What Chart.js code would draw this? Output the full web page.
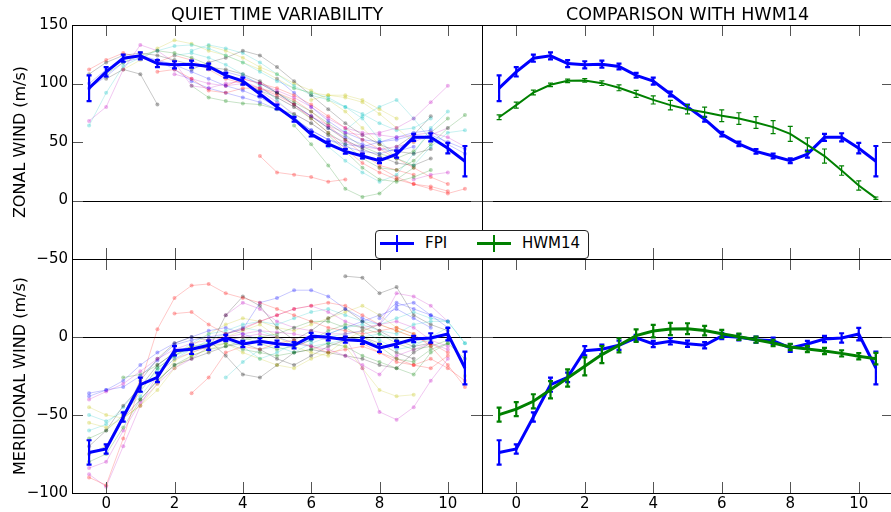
<!DOCTYPE html>
<html>
<head>
<meta charset="utf-8">
<script src="https://cdn.jsdelivr.net/npm/chart.js@4.4.0/dist/chart.umd.min.js"></script>
<style>
  html, body { margin: 0; padding: 0; overflow: hidden; background: #fff; }
  body { width: 891px; height: 512px; position: relative; font-family: "DejaVu Sans", sans-serif; }
  canvas { position: absolute; }
  #legend { position: absolute; left: 375px; top: 230px; width: 212px; height: 27px;
            border: 1px solid #222; border-radius: 4px; background: #fff; z-index: 2; }
  .key { position: absolute; top: 4px; width: 34px; height: 17px; }
  .key .h { position: absolute; left: 0; top: 7px; width: 34px; height: 3px; }
  .key .v { position: absolute; left: 16px; top: 0; width: 2px; height: 17px; }
  .lbl { position: absolute; top: 2px; font-size: 15px; line-height: 20px; color: #000; }
</style>
</head>
<body>
<canvas id="meridVar" width="483" height="253" style="left:0;top:259px"></canvas>
<canvas id="meridCmp" width="412" height="253" style="left:482px;top:259px"></canvas>
<canvas id="zonalVar" width="483" height="270" style="left:0;top:0"></canvas>
<canvas id="zonalCmp" width="412" height="270" style="left:482px;top:0"></canvas>
<div id="legend">
  <div class="key" style="left:4px"><div class="h" style="background:#0000ff"></div><div class="v" style="background:#0000ff"></div></div>
  <div class="lbl" style="left:49px">FPI</div>
  <div class="key" style="left:101px"><div class="h" style="background:#008000"></div><div class="v" style="background:#008000"></div></div>
  <div class="lbl" style="left:146px">HWM14</div>
</div>
<script>
// Heure locale (demi-heures)
const hours = [-0.5, 0, 0.5, 1, 1.5, 2, 2.5, 3, 3.5, 4, 4.5, 5, 5.5, 6, 6.5, 7, 7.5, 8, 8.5, 9, 9.5, 10, 10.5];
const xTicks = [0, 2, 4, 6, 8, 10];
const zonalTicks = [150, 100, 50, 0, -50];
const meridTicks = [50, 0, -50, -100];

// Moyennes FPI et HWM14
const fpiZonal = [96, 110, 121.6, 123.6, 117, 116, 116.5, 114.5, 107, 102, 91, 80, 69.5, 56.7, 48.4, 42, 38, 34, 39.6, 54, 54, 44.7, 33.6];
const fpiZonalErr = [11, 4, 3, 3, 3, 3, 3, 2.5, 2, 3, 2, 2, 2, 2, 2, 2, 2, 2, 3, 3, 3.5, 4.5, 13];
const hwmZonal = [71.2, 81.5, 92.3, 98.9, 102.3, 102.6, 100.3, 96.3, 91.2, 86, 81.5, 78, 75.5, 72.4, 70, 66.7, 62.7, 57, 47.6, 38, 25.6, 12.8, 2];
const hwmZonalErr = [2, 2.5, 2, 1.5, 1.5, 1.5, 2, 2.5, 3, 3.5, 4, 4, 4.3, 5, 5, 5, 5.5, 6.4, 6, 6, 4, 4, 1];
const fpiMerid = [-74, -71.8, -51.3, -30.6, -25.9, -8.8, -7.9, -5.3, -0.6, -4.5, -2.8, -4.3, -5.3, 0.6, -0.2, -1.7, -2.4, -7, -4.5, -1.3, -0.6, 1.9, -19.9];
const fpiMeridErr = [7.8, 3, 3, 4.5, 3, 3, 3, 3, 2, 2, 2, 2, 2, 2, 2, 2, 2, 2.5, 2, 2, 3, 4, 10.5];
const hwmMerid = [-49.8, -46.2, -41.2, -33.8, -26.3, -18.8, -11.3, -5.3, 0.9, 3.8, 5.1, 5.3, 4.1, 2.1, 0.2, -1.7, -3.8, -6.4, -7.7, -9, -10.5, -12.4, -13.9];
const hwmMeridErr = [4.5, 4.5, 4.5, 5.5, 5.5, 5.8, 5.5, 4.5, 4, 4, 3.9, 3.5, 3, 2.5, 2, 2, 2, 2, 2, 2, 2, 2, 3.7];

// Nuits calmes individuelles - vent zonal
const N = null;
const zNight01 = [100, 112, 120, 124, 120, 116, 110, 104, 98, 94, 88, 80, 70, 60, 52, 46, 42, 40, 44, 52, 56, 50, 44];
const zNight02 = [N, 108, 118, 124, 128, 126, 122, 116, 108, 100, 94, 88, 80, 70, 58, 48, 36, 28, 26, 34, 48, 62, 73];
const zNight03 = [N, N, N, N, N, N, N, N, N, N, 38, 24, 22, 20, 16, 18, N, N, N, N, N, N, N];
const zNight04 = [64, 92, 115, 122, 128, 132, 133, 130, 124, 118, 110, 102, 96, 92, 88, 80, 70, 52, 36, 30, 46, 58, 60];
const zNight05 = [68, 80, 112, 133, 128, 118, 98, 96, 100, 102, 96, 88, 80, 72, 64, 58, 56, 58, 62, 70, 84, 98, N];
const zNight06 = [N, N, 112, 120, 130, 137, 134, 128, 124, 118, 112, 104, 96, 92, 90, 88, 84, 74, 62, 50, N, N, N];
const zNight07 = [N, 104, 112, 108, 82, N, N, N, N, N, N, N, N, N, N, N, N, N, N, N, N, N, N];
const zNight08 = [N, N, N, N, N, N, 112, 118, 122, 128, 124, 114, 102, 90, 78, 66, 56, 48, 42, 40, 44, N, N];
const zNight09 = [N, N, N, N, N, N, 98, 88, 85, 83, 82, 78, 74, 66, 56, 42, 28, 18, 16, 20, 26, N, N];
const zNight10 = [N, N, N, N, 110, 112, 104, 94, 92, 96, 96, 90, 82, 70, 58, 44, 32, 24, 18, 14, 12, 8, N];
const zNight11 = [N, N, N, N, N, 124, 126, 122, 116, 108, 98, 86, 72, 58, 46, 34, 24, 16, 22, 40, 62, 76, N];
const zNight12 = [N, N, N, N, N, N, N, N, 106, 104, 100, 94, 88, 80, 70, 62, 58, 56, 54, 56, 58, 54, 46];
const zNight13 = [96, 106, 118, 122, 120, 112, 102, 96, 92, 88, 84, 78, 70, 60, 52, 48, 46, 50, 54, 58, 60, 48, 40];
const zNight14 = [N, N, N, N, N, N, N, N, N, N, N, N, N, N, N, N, N, 28, 20, 14, 10, 6, 10];
const zNight15 = [N, N, N, N, N, N, N, N, N, N, N, N, N, 86, 90, 90, 86, 78, 70, N, N, N, N];
const zNight16 = [N, N, N, N, N, N, N, N, N, N, N, N, 64, 48, 30, 10, 3, 6, 18, 28, N, N, N];
const zNight17 = [N, N, N, N, N, N, N, N, N, N, N, N, N, N, N, N, N, N, N, 18, 22, 24, N];
const zNight18 = [N, N, N, N, N, N, N, N, 98, 104, 100, 96, 90, 82, 72, 62, 52, 44, 36, 28, 20, 14, N];
const zNight19 = [N, N, N, N, N, N, N, N, N, N, N, 104, 92, 80, 68, 58, 52, 50, 52, 56, N, N, N];
const zNight20 = [108, 118, 124, 126, 124, 120, 116, 114, 112, 108, 102, 92, 82, 72, 62, 52, 44, 38, 32, 30, 36, N, N];
const zNight21 = [N, N, N, N, N, N, 128, 133, 130, 126, 118, 108, 98, 90, 86, 80, 74, 66, 60, 62, 70, N, N];
const zNight22 = [N, N, N, N, N, 108, 104, 100, 98, 100, 94, 84, 74, 66, 56, 50, 46, 44, 46, 50, 56, 62, N];
const zNight23 = [N, N, N, N, N, N, N, 132, 128, 122, 114, 108, 100, 94, 86, 76, 62, 48, 36, 30, N, N, N];
const zNight24 = [N, N, N, N, N, N, N, N, 110, 106, 100, 92, 82, 72, 62, 54, 48, 44, 42, 46, N, N, N];
const zNight25 = [N, N, N, N, N, N, N, N, N, N, 100, 92, 84, 76, 66, 56, 46, 40, 36, 42, 58, 70, N];
const zNight26 = [N, N, N, N, N, N, N, N, N, N, N, N, N, N, N, N, N, N, 46, 56, 72, N, N];
const zNight27 = [112, 120, 126, 122, 118, 124, 120, 112, 104, 100, 96, 92, 86, 76, 64, 52, 40, 30, 26, 22, N, N, N];
const zNight28 = [N, N, N, N, N, N, N, N, N, N, N, N, N, N, N, 60, 72, 80, 86, 70, 52, 44, N];
const zNightColors = ['b', 'g', 'r', 'c', 'm', 'y', 'k', 'k', 'g', 'r', 'c', 'm', 'b', 'r', 'y', 'g', 'm', 'r', 'b', 'k',
  'c', 'm', 'y', 'b', 'g', 'k', 'r', 'c'];

// Nuits calmes individuelles - vent méridien
const mNight01 = [-90, -95, -65, -30, 5, 25, 33, 34, 28, 25, 22, 18, 14, 10, 6, 4, 2, 4, 6, 2, -6, -18, -32];
const mNight02 = [N, N, N, N, N, 15, 16, 8, 2, 5, 10, 14, 18, 20, 22, 20, 14, 8, 4, 0, -4, -10, N];
const mNight03 = [-40, -35, -30, -22, -14, -8, -4, -2, 0, 2, 4, 3, 2, 0, -2, 0, -20, -48, -53, -45, -28, -14, N];
const mNight04 = [-38, -34, -32, -25, -15, -5, -2, 0, 2, 5, 22, 25, 30, 30, 26, 18, 12, 8, 20, 22, 14, 6, N];
const mNight05 = [-50, -54, -48, -38, -24, -14, -8, -4, -2, -6, -14, -10, -4, -2, 2, 6, 8, 4, 2, 8, 10, 10, -4];
const mNight06 = [-80, -75, -58, -40, -28, -18, -12, -8, -6, -2, 0, 2, 6, 10, 10, 6, 0, -6, -14, -16, -8, -4, -14];
const mNight07 = [-55, -58, -52, -44, -30, -15, -10, -6, 0, 4, 8, 0, -6, -10, -12, -6, -20, -34, -38, -37, N, N, -25];
const mNight08 = [-70, -60, -44, -32, -18, -10, -6, -8, 14, 26, 20, 6, -2, 4, 12, 18, 10, 4, -2, -6, -4, N, N];
const mNight09 = [N, N, N, N, N, N, N, N, N, N, N, N, N, N, N, 39, 38, 28, 32, 14, 8, 4, N];
const mNight10 = [-60, -56, -45, -32, -22, -12, -4, 2, 4, 8, 10, 8, 12, 16, 18, 14, 10, 8, 12, 16, 12, 10, -4];
const mNight11 = [-88, -96, -70, -44, -24, -14, -10, -6, -2, 0, 2, 0, -4, -6, -8, -12, -18, -24, -12, -8, -4, -8, N];
const mNight12 = [N, N, -26, -24, -18, -10, -8, -6, -4, -8, -10, -12, -10, -8, -4, -6, -12, -16, -20, -24, -10, -4, N];
const mNight13 = [-45, -50, -52, -44, -34, -20, -12, -8, -4, -10, -14, -18, -20, -14, -10, -2, 4, 8, 4, 0, N, N, N];
const mNight14 = [-75, -70, -50, -28, -14, -4, 0, -2, -12, -24, -26, -18, -10, -8, -10, -12, -14, -18, -20, -10, -4, N, N];
const mNight15 = [N, N, N, N, N, N, -36, -26, -10, -6, -8, -4, -2, -6, -10, -8, -6, -10, -14, -18, -14, -20, -28];
const mNight16 = [N, N, N, N, N, N, N, N, N, N, N, N, N, N, N, N, N, 12, 22, 18, 14, 10, N];
const mNight17 = [N, N, N, N, N, N, N, N, 14, 22, 18, 10, 6, 4, 2, 2, 4, 8, 28, 26, 20, 10, N];
const mNight18 = [N, N, N, N, N, N, N, N, -26, -16, -8, -6, -10, -4, 0, 2, 4, -2, -8, -6, 0, 6, N];
const mNight19 = [-65, -60, -50, -35, -20, -12, -6, -4, -2, 0, -4, -8, -6, -2, 4, 8, 6, 2, -4, -8, -6, -2, N];
const mNight20 = [N, N, N, N, N, -12, -6, 2, 8, 12, 10, 6, 4, 8, 12, 16, 20, 14, 6, 2, N, N, N];
const mNight21 = [-36, -34, -28, -18, -10, -4, 0, 4, 6, 2, -2, -4, -6, -2, 2, 6, 10, 14, 18, 12, 6, N, N];
const mNight22 = [N, N, -52, -40, -28, -18, -14, -10, -6, -4, -8, -14, -18, -12, -6, -2, 0, -4, -10, -14, N, N, N];
const mNight23 = [N, N, N, N, -20, -12, -8, -2, 2, 6, 4, 0, -4, -6, -4, -2, 0, 2, -2, -4, -2, 2, N];
const mNight24 = [N, N, N, N, N, N, N, N, N, N, N, N, N, N, N, N, -4, -10, -16, -18, -20, -12, N];
const mNight25 = [-84, -80, -60, -42, -30, -20, -14, -6, 2, 6, 10, 14, 18, 20, 16, 10, 6, 8, 10, 6, -2, -6, N];
const mNightColors = ['r', 'r', 'm', 'b', 'c', 'g', 'y', 'k', 'k', 'c', 'm', 'g', 'y', 'k', 'r', 'b', 'm', 'c',
  'g', 'y', 'b', 'k', 'c', 'r', 'm'];

const zonalNights = [zNight01, zNight02, zNight03, zNight04, zNight05, zNight06, zNight07, zNight08, zNight09, zNight10,
  zNight11, zNight12, zNight13, zNight14, zNight15, zNight16, zNight17, zNight18, zNight19, zNight20,
  zNight21, zNight22, zNight23, zNight24, zNight25, zNight26, zNight27, zNight28];
const meridNights = [mNight01, mNight02, mNight03, mNight04, mNight05, mNight06, mNight07, mNight08, mNight09,
  mNight10, mNight11, mNight12, mNight13, mNight14, mNight15, mNight16, mNight17, mNight18,
  mNight19, mNight20, mNight21, mNight22, mNight23, mNight24, mNight25];

// couleurs matplotlib classiques
const mplRgb = { b: '0,0,255', g: '0,128,0', r: '255,0,0', c: '0,191,191', m: '191,0,191', y: '191,191,0', k: '0,0,0' };
const FONT = 'DejaVu Sans';
const TICK_LEN = 11;

function puntos(valores) {
  return hours.map((h, i) => ({ x: h, y: valores[i] }));
}

function menos(v) {
  return v < 0 ? '\u2212' + Math.abs(v) : String(v);
}

// Cadre, graduations intérieures et ligne zéro (style matplotlib)
const mplFrame = {
  id: 'mplFrame',
  beforeDatasetsDraw(chart) {
    const { ctx, chartArea: a, scales: { y } } = chart;
    const y0 = Math.round(y.getPixelForValue(0)) + 0.5;
    ctx.save();
    ctx.strokeStyle = '#000';
    ctx.lineWidth = 1;
    ctx.beginPath();
    ctx.moveTo(a.left, y0);
    ctx.lineTo(a.right, y0);
    ctx.stroke();
    ctx.restore();
  },
  afterDatasetsDraw(chart) {
    const { ctx, chartArea: a, scales: { x, y } } = chart;
    ctx.save();
    ctx.strokeStyle = '#555';
    ctx.lineWidth = 1;
    ctx.beginPath();
    x.ticks.forEach(t => {
      const px = Math.round(x.getPixelForValue(t.value)) + 0.5;
      ctx.moveTo(px, a.top);
      ctx.lineTo(px, a.top + TICK_LEN);
      ctx.moveTo(px, a.bottom);
      ctx.lineTo(px, a.bottom - TICK_LEN);
    });
    y.ticks.forEach(t => {
      const py = Math.round(y.getPixelForValue(t.value)) + 0.5;
      ctx.moveTo(a.left, py);
      ctx.lineTo(a.left + TICK_LEN, py);
      ctx.moveTo(a.right, py);
      ctx.lineTo(a.right - TICK_LEN, py);
    });
    ctx.stroke();
    ctx.strokeStyle = '#000';
    ctx.strokeRect(a.left + 0.5, a.top + 0.5, a.right - a.left, a.bottom - a.top);
    ctx.restore();
  }
};

// Barres d'erreur dessinées avec chaque jeu de données
const errorBars = {
  id: 'errorBars',
  afterDatasetDraw(chart, args) {
    const ds = chart.data.datasets[args.index];
    if (!ds.errors) return;
    const { ctx, scales: { x, y } } = chart;
    const cap = 2.5;
    ctx.save();
    ctx.strokeStyle = ds.borderColor;
    ctx.lineWidth = ds.errorWidth;
    ctx.beginPath();
    ds.data.forEach((p, i) => {
      const px = x.getPixelForValue(p.x);
      const top = y.getPixelForValue(p.y + ds.errors[i]);
      const bot = y.getPixelForValue(p.y - ds.errors[i]);
      ctx.moveTo(px, top); ctx.lineTo(px, bot);
      ctx.moveTo(px - cap, top); ctx.lineTo(px + cap, top);
      ctx.moveTo(px - cap, bot); ctx.lineTo(px + cap, bot);
    });
    ctx.stroke();
    ctx.restore();
  }
};

function serieMedia(label, valores, errores, color, ancho, orden) {
  return {
    label: label,
    data: puntos(valores),
    errors: errores,
    errorWidth: ancho - 0.8,
    borderColor: color,
    backgroundColor: color,
    borderWidth: ancho,
    pointRadius: 0,
    tension: 0,
    order: orden
  };
}

function seriesNoches(noches, colores) {
  return noches.map((v, i) => ({
    data: puntos(v),
    borderColor: 'rgba(' + mplRgb[colores[i]] + ',0.22)',
    backgroundColor: 'rgba(' + mplRgb[colores[i]] + ',0.3)',
    borderWidth: 1,
    pointRadius: 2,
    pointBorderWidth: 0,
    spanGaps: false,
    tension: 0,
    order: 5
  }));
}

function crearPanel(id, datasets, cfg) {
  const ctx = document.getElementById(id).getContext('2d');
  return new Chart(ctx, {
    type: 'line',
    data: { datasets: datasets },
    options: {
      responsive: false,
      animation: false,
      events: [],
      layout: { autoPadding: false, padding: { top: 0, left: 0, right: 1, bottom: cfg.bottomPad } },
      plugins: {
        legend: { display: false },
        tooltip: { enabled: false },
        title: {
          display: !!cfg.title,
          text: cfg.title || '',
          fullSize: false,
          color: '#000',
          font: { family: FONT, size: 17.5, weight: 'normal', lineHeight: 1 },
          padding: { top: 7, bottom: 0.5 }
        }
      },
      scales: {
        x: {
          type: 'linear',
          min: -1,
          max: 11,
          afterBuildTicks: s => { s.ticks = xTicks.map(v => ({ value: v })); },
          afterFit: s => { s.height = cfg.xHeight; s.paddingLeft = 0; s.paddingRight = 0; },
          grid: { display: false, drawTicks: false },
          border: { display: false },
          ticks: {
            display: cfg.xLabels,
            color: '#000',
            padding: 2,
            maxRotation: 0,
            font: { family: FONT, size: 15 },
            callback: v => menos(v)
          }
        },
        y: {
          type: 'linear',
          min: cfg.yMin,
          max: cfg.yMax,
          afterBuildTicks: s => { s.ticks = cfg.yTicks.map(v => ({ value: v })); },
          afterFit: s => { s.width = cfg.yWidth; s.paddingTop = 0; s.paddingBottom = 0; },
          grid: { display: false, drawTicks: false },
          border: { display: false },
          title: {
            display: !!cfg.yTitle,
            text: cfg.yTitle || '',
            color: '#000',
            font: { family: FONT, size: 16, lineHeight: 1 },
            padding: { top: 13, bottom: 0 }
          },
          ticks: {
            display: cfg.yLabels,
            color: '#000',
            padding: 4,
            font: { family: FONT, size: 15 },
            callback: v => (cfg.hide.includes(v) ? '' : menos(v))
          }
        }
      }
    },
    plugins: [mplFrame, errorBars]
  });
}

// Panneau haut gauche : variabilité du vent zonal
crearPanel('zonalVar',
  [serieMedia('FPI', fpiZonal, fpiZonalErr, '#0000ff', 3, 0)].concat(seriesNoches(zonalNights, zNightColors)),
  { title: 'QUIET TIME VARIABILITY', yTitle: 'ZONAL WIND (m/s)', yMin: -50, yMax: 150, yTicks: zonalTicks,
    yWidth: 72, yLabels: true, xLabels: false, xHeight: 0, bottomPad: 11, hide: [] });

// Panneau haut droit : comparaison avec HWM14
crearPanel('zonalCmp',
  [serieMedia('HWM14', hwmZonal, hwmZonalErr, '#008000', 2, 0), serieMedia('FPI', fpiZonal, fpiZonalErr, '#0000ff', 3, 1)],
  { title: 'COMPARISON WITH HWM14', yMin: -50, yMax: 150, yTicks: zonalTicks,
    yWidth: 0, yLabels: false, xLabels: false, xHeight: 0, bottomPad: 11, hide: [] });

// Panneau bas gauche : variabilité du vent méridien
crearPanel('meridVar',
  [serieMedia('FPI', fpiMerid, fpiMeridErr, '#0000ff', 3, 0)].concat(seriesNoches(meridNights, mNightColors)),
  { yTitle: 'MERIDIONAL WIND (m/s)', yMin: -100, yMax: 50, yTicks: meridTicks,
    yWidth: 72, yLabels: true, xLabels: true, xHeight: 19, bottomPad: 0, hide: [50] });

// Panneau bas droit
crearPanel('meridCmp',
  [serieMedia('HWM14', hwmMerid, hwmMeridErr, '#008000', 3, 0), serieMedia('FPI', fpiMerid, fpiMeridErr, '#0000ff', 3, 1)],
  { yMin: -100, yMax: 50, yTicks: meridTicks,
    yWidth: 0, yLabels: false, xLabels: true, xHeight: 19, bottomPad: 0, hide: [50] });
</script>
</body>
</html>
